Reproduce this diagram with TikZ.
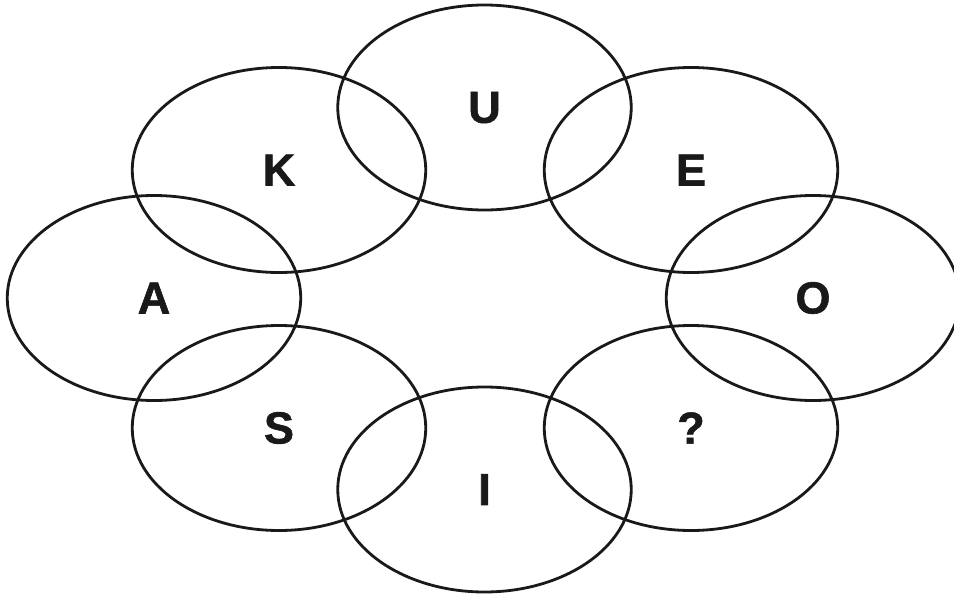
\documentclass[tikz,border=0pt]{standalone}
\usepackage{fontspec}
\setmainfont{Liberation Sans}
\newfontfamily\heavyfont[FakeBold=1.2]{Liberation Sans Bold}
\usetikzlibrary{shapes.geometric}
\begin{document}
\begin{tikzpicture}[x=1pt,y=-1pt,
  ring/.style={ellipse, draw=black!90, line width=2.8pt, minimum width=293.5pt, minimum height=205pt, inner sep=0pt, font=\heavyfont\fontsize{45}{45}\selectfont, text=black!90}]
\useasboundingbox (0,0) rectangle (954,597);
\node[ring] (U) at (484.5,107.5) {U};
\node[ring] (K) at (279,170) {K};
\node[ring] (E) at (691,170) {E};
\node[ring] (A) at (154,298) {A};
\node[ring] (O) at (813,298) {O};
\node[ring] (S) at (279,428) {S};
\node[ring] (Q) at (691,428) {?};
\node[ring] (I) at (484.5,489.5) {I};
\end{tikzpicture}
\end{document}
